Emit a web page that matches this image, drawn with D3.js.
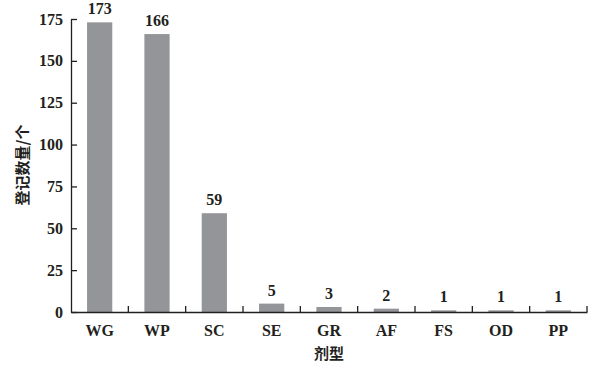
<!DOCTYPE html>
<html><head><meta charset="utf-8">
<script src="https://cdn.jsdelivr.net/npm/d3@7"></script>
<style>body{margin:0;background:#fff}svg{display:block}</style>
</head><body>
<script>
const categories = ["WG","WP","SC","SE","GR","AF","FS","OD","PP"];
const values = [173,166,59,5,3,2,1,1,1];
const yTicks = [0,25,50,75,100,125,150,175];
const xTitle = "剂型";
const yTitle = "登记数量/个";

(function(){
const W=600,H=366;
const mLeft=71,mRight=587,mTop=19,mBottom=312;
const svg=d3.select("body").append("svg").attr("width",W).attr("height",H);
const serif="'Liberation Serif','Times New Roman',serif";
const x=d3.scaleBand().domain(categories).range([mLeft,mRight]).paddingInner(0).paddingOuter(0);
const y=d3.scaleLinear().domain([0,175]).range([mBottom,mTop]);
const bw=x.bandwidth()*0.44;

svg.selectAll("rect.bar").data(values).enter().append("rect")
  .attr("x",(d,i)=>x(categories[i])+x.bandwidth()/2-bw/2)
  .attr("width",bw)
  .attr("y",d=>y(d)).attr("height",d=>Math.max(0,mBottom-y(d)))
  .attr("fill","#939598");

svg.selectAll("text.val").data(values).enter().append("text")
  .attr("x",(d,i)=>x(categories[i])+x.bandwidth()/2)
  .attr("y",d=>y(d)-8)
  .attr("text-anchor","middle").attr("font-family",serif).attr("font-weight","bold")
  .attr("font-size",16).attr("fill","#231f20").text(d=>d);

const ya=svg.append("g").attr("transform",`translate(${mLeft},0)`)
  .call(d3.axisLeft(y).tickValues(yTicks).tickSize(-6).tickPadding(8).tickSizeOuter(0));
ya.select(".domain").attr("stroke","#231f20").attr("stroke-width",1.3);
ya.selectAll(".tick line").attr("stroke","#231f20").attr("stroke-width",1.3);
ya.selectAll("text").attr("font-family",serif).attr("font-weight","bold").attr("font-size",16).attr("fill","#231f20");

const xa=svg.append("g").attr("transform",`translate(0,${mBottom})`)
  .call(d3.axisBottom(x).tickSize(0).tickPadding(13));
xa.select(".domain").attr("stroke","#231f20").attr("stroke-width",1.3);
xa.selectAll("text").attr("font-family",serif).attr("font-weight","bold").attr("font-size",16).attr("fill","#231f20");
const bounds=categories.map(c=>x(c)+x.bandwidth());
svg.append("g").selectAll("line").data(bounds).enter().append("line")
  .attr("x1",d=>d).attr("x2",d=>d).attr("y1",mBottom).attr("y2",mBottom-6)
  .attr("stroke","#231f20").attr("stroke-width",1.3);

svg.append("text").attr("x",(mLeft+mRight)/2).attr("y",359).attr("text-anchor","middle")
  .attr("font-family","'Noto Sans CJK SC'").attr("font-weight","bold").attr("font-size",15)
  .attr("fill","#231f20").text(xTitle);
svg.append("text").attr("transform",`translate(28,165) rotate(-90)`).attr("text-anchor","middle")
  .attr("font-family","'Noto Sans CJK SC'").attr("font-weight","bold").attr("font-size",15)
  .attr("fill","#231f20").text(yTitle);
})();
</script>
</body></html>
